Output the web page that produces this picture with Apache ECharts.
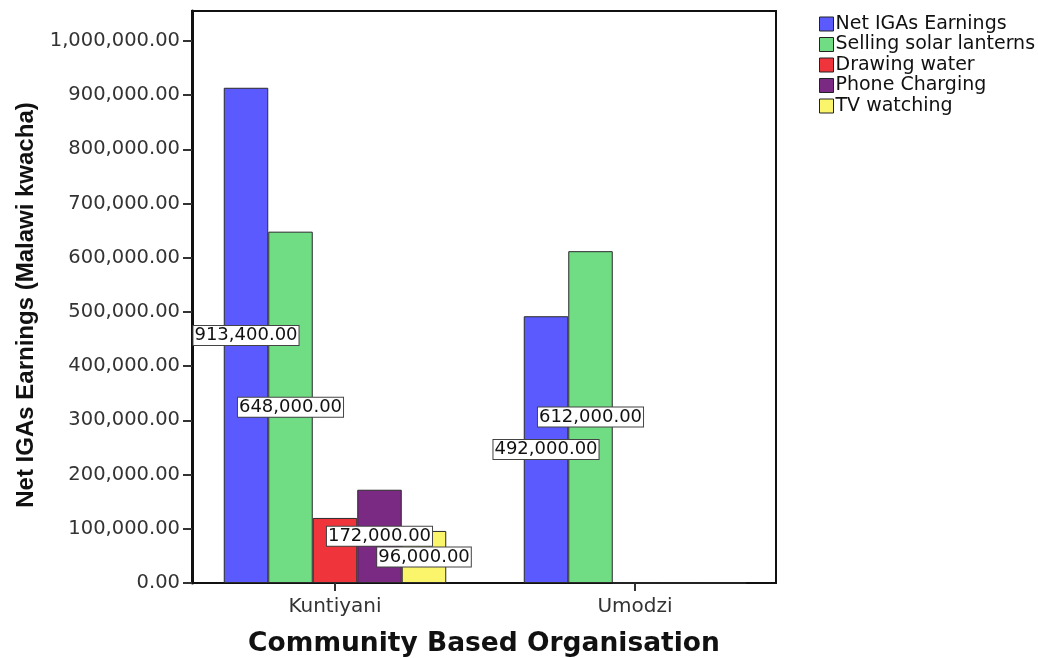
<!DOCTYPE html>
<html>
<head>
<meta charset="utf-8">
<script src="https://cdn.jsdelivr.net/npm/echarts@6/dist/echarts.min.js"></script>
<style>
html,body{margin:0;padding:0;background:#fff;}
#chart{width:1038px;height:658px;}
</style>
</head>
<body>
<div id="chart"></div>
<script>
const categories = ['Kuntiyani', 'Umodzi'];
const seriesNames = ['Net IGAs Earnings', 'Selling solar lanterns', 'Drawing water', 'Phone Charging', 'TV watching'];
const netIGAs = [913400, 492000];
const solarLanterns = [648000, 612000];
const drawingWater = [120000, 0];
const phoneCharging = [172000, 0];
const tvWatching = [96000, 0];
const showLabels = [true, true, false, true, true];
const yTicks = [0, 100000, 200000, 300000, 400000, 500000, 600000, 700000, 800000, 900000, 1000000];
const colors = ['#5a5aff', '#70dc84', '#f0343c', '#7a2a82', '#fbf56c'];

const values = [netIGAs, solarLanterns, drawingWater, phoneCharging, tvWatching];
const fmt = v => v.toLocaleString('en-US', {minimumFractionDigits: 2, maximumFractionDigits: 2});

const chart = echarts.init(document.getElementById('chart'), null, {renderer: 'canvas'});
const series = seriesNames.map((name, si) => ({
  name: name,
  type: 'bar',
  barWidth: 44.5,
  barGap: '0%',
  data: values[si].map((v, ci) => ({
    value: [ci, v],
    label: {show: showLabels[si] && v > 0}
  })),
  itemStyle: {color: colors[si], borderColor: '#2a2a2a', borderWidth: 1},
  label: {
    show: showLabels[si],
    position: 'inside',
    formatter: p => fmt(p.value[1]),
    color: '#111',
    fontFamily: 'DejaVu Sans',
    fontSize: 18,
    backgroundColor: '#fff',
    borderColor: '#444',
    borderWidth: 1,
    padding: [1, 1, 0, 1]
  },
  emphasis: {disabled: true}
}));

chart.setOption({
  animation: false,
  color: colors,
  grid: {left: 192, top: 11, width: 584, height: 572, show: true, borderColor: '#111', borderWidth: 2, backgroundColor: '#fff', outerBoundsMode: 'none', containLabel: false},
  legend: {
    orient: 'vertical',
    left: 814,
    top: 9,
    itemWidth: 14,
    itemHeight: 14,
    itemGap: 0.5,
    icon: 'rect',
    itemStyle: {borderColor: '#222', borderWidth: 1},
    textStyle: {fontFamily: 'DejaVu Sans', fontSize: 19, lineHeight: 20, color: '#111', padding: [0, 0, 0, -3]},
    data: seriesNames
  },
  xAxis: {
    type: 'value',
    min: -143 / 300,
    max: 441 / 300,
    splitLine: {show: false},
    axisLine: {show: true, onZero: false, lineStyle: {color: '#111', width: 2}},
    axisTick: {show: true, customValues: [0, 1], length: 8, lineStyle: {color: '#333', width: 2}},
    axisLabel: {
      customValues: [0, 1],
      formatter: v => categories[Math.round(v)] || '',
      fontFamily: 'DejaVu Sans', fontSize: 20, color: '#333', margin: 14
    },
    name: 'Community Based Organisation',
    nameLocation: 'middle',
    nameGap: 48,
    nameTextStyle: {fontFamily: 'DejaVu Sans', fontWeight: 'bold', fontSize: 26.5, color: '#111'}
  },
  yAxis: {
    type: 'value',
    min: 0,
    max: 1055000,
    splitLine: {show: false},
    axisLine: {show: true, onZero: false, lineStyle: {color: '#111', width: 3}},
    axisTick: {show: true, customValues: yTicks, length: 9, lineStyle: {color: '#333', width: 2}},
    axisLabel: {
      customValues: yTicks,
      formatter: v => fmt(v),
      fontFamily: 'DejaVu Sans', fontSize: 19.5, color: '#333', margin: 12
    },
    name: 'Net IGAs Earnings (Malawi kwacha)',
    nameLocation: 'middle',
    nameGap: 153,
    nameTextStyle: {fontFamily: 'Liberation Sans', fontWeight: 'bold', fontSize: 24, color: '#111', padding: [0, 16, 0, 0]}
  },
  series: series
});
</script>
</body>
</html>
